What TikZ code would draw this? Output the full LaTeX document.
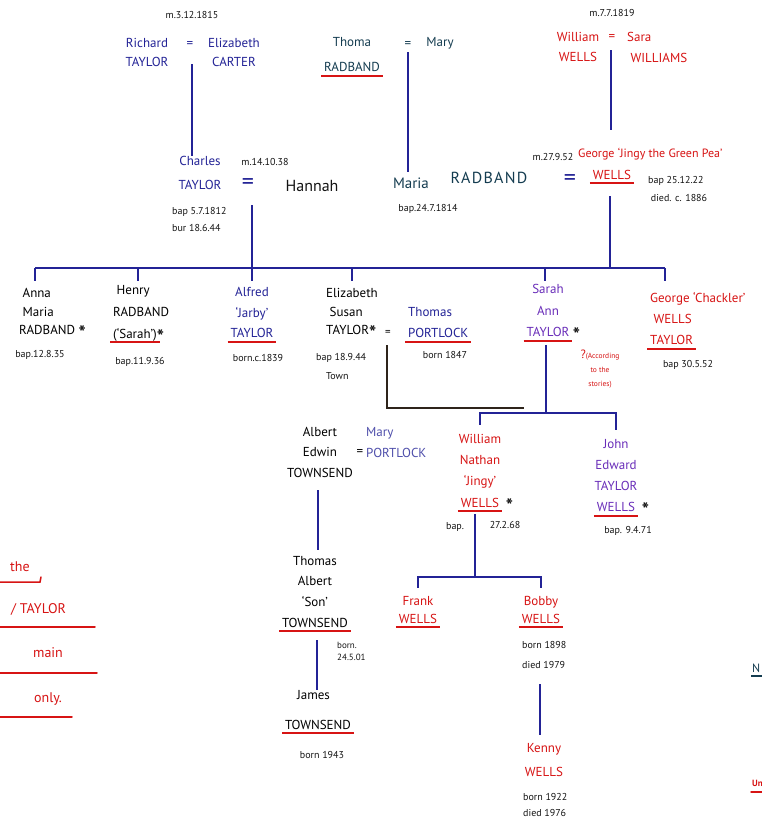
\documentclass[tikz,border=0pt]{standalone}
\usepackage{fontspec}
\setmainfont{PT Sans}
\usepackage{tikz}
\usetikzlibrary{positioning,calc}
\definecolor{inkblue}{RGB}{35,35,150}
\definecolor{inkred}{RGB}{215,20,20}
\definecolor{inkpurple}{RGB}{105,45,185}
\definecolor{inkteal}{RGB}{20,60,80}
\definecolor{inkblack}{RGB}{20,20,20}
% rote Unterstreichung unter Nachnamen
\newcommand\rul[1]{\setbox0=\hbox{#1}\kern-3pt\rlap{\color{inkred}\rule[-5pt]{\dimexpr\wd0+6pt\relax}{1.8pt}}\kern3pt\box0}
\newcommand\st{\raisebox{-5pt}{\fontsize{19}{19}\selectfont\bfseries\color{inkblack}*}}

\begin{document}
\begin{tikzpicture}[x=1pt,y=-1pt,
  nm/.style={font=\fontsize{13}{19}\selectfont, inner sep=0pt, align=center},
  dt/.style={font=\fontsize{10}{16}\selectfont, inner sep=0pt, align=left, text=inkblack},
  big/.style={font=\fontsize{24}{24}\selectfont, inner sep=0pt},
  ln/.style={draw=inkblue, line width=1.1pt},
  ul/.style={draw=inkred, line width=1.5pt, line cap=round}]
\useasboundingbox[fill=white] (0,0) rectangle (762,822);

%Urgrosseltern
\node[dt] (m1) at (192,15) {m.3.12.1815};
\node[nm,text=inkblue] (richard) at (147,52) {Richard\\TAYLOR};
\node[nm,text=inkblue] (eq1) at (190,45) {=};
\node[nm,text=inkblue] (elizC) at (234,52) {Elizabeth\\CARTER};
\node[nm,text=inkteal,font=\fontsize{13}{25}\selectfont] (thoma) at (352,57) {Thoma\\\rul{RADBAND}};
\node[nm,text=inkteal] (eq2) at (408,45) {=};
\node[nm,text=inkteal] (mary) at (440,43) {Mary};
\node[dt] (m2) at (612,13) {m.7.7.1819};
\node[nm,text=inkred,font=\fontsize{13}{20}\selectfont] (william) at (578,47) {William\\WELLS};
\node[nm,text=inkred] (eq3) at (612,38) {=};
\node[nm,text=inkred,anchor=west,align=left,font=\fontsize{13}{21}\selectfont] (sara) at (627,47) {Sara\\\ WILLIAMS};

%Grosseltern
\node[nm,text=inkblue,font=\fontsize{13}{24}\selectfont] (charles) at (200,173) {Charles\\TAYLOR};
\node[dt] (m3) at (265,162) {m.14.10.38};
\node[big,text=inkblue] (eq4) at (248,184) {=};
\node[text=inkblack,font=\fontsize{16}{16}\selectfont,inner sep=0pt] (hannah) at (312,186) {Hannah};
\node[text=inkteal,font=\fontsize{15}{15}\selectfont,inner sep=0pt] (maria) at (411,183) {Maria};
\node[text=inkteal,font=\fontsize{16}{16}\selectfont\addfontfeature{LetterSpace=8},inner sep=0pt] (radband) at (489,178) {RADBAND};
\node[dt,anchor=west,font=\fontsize{10}{17}\selectfont] (bapC) at (172,219) {bap 5.7.1812\\bur 18.6.44};
\node[dt] (bapH) at (428,209) {bap.24.7.1814};
\node[dt] (m4) at (553,157) {m.27.9.52};
\node[nm,text=inkred,anchor=west,font=\fontsize{12}{14}\selectfont] (george) at (578,154) {George `Jingy the Green Pea'};
\node[big,text=inkblue] (eq5) at (570,180) {=};
\node[nm,text=inkred] (gwells) at (612,177) {\rul{WELLS}};
\node[dt,anchor=west,font=\fontsize{10}{18}\selectfont] (bapG) at (648,189) {bap 25.12.22\\\ died. c. 1886};

\coordinate (c1) at (192,64);
\draw[ln] (c1) -- (c1 |- charles.north);
\coordinate (c2) at (408,52);
\draw[ln] (c2) -- ([yshift=5pt]c2 |- maria.north);
\coordinate (c3) at (611,50);
\draw[ln] (c3) -- ++(0,80);

%Geschwisterlinie
\coordinate (bar) at (35,268);
\coordinate (barE) at (665,268);
\draw[ln] (bar) -- (barE);
\coordinate (c4) at (252,205);
\draw[ln] (c4) -- (c4 |- bar);
\coordinate (c5) at (610,196);
\draw[ln] (c5) -- (c5 |- bar);
\foreach \x in {35,138,252,352,545,665}
  \draw[ln] (\x,268) -- ++(0,13);

%Kinder
\node[nm,anchor=west,align=left,font=\fontsize{13}{18.5}\selectfont] (anna) at (19,314) {\ Anna\\\ Maria\\RADBAND \st};
\node[dt] (bapA) at (40,355) {bap.12.8.35};
\node[nm,anchor=west,align=left,font=\fontsize{13}{22}\selectfont] (henry) at (113,314) {\ Henry\\RADBAND\\\rul{(`Sarah')} \st};
\node[dt] (bapHe) at (140,362) {bap.11.9.36};
\node[nm,text=inkblue,font=\fontsize{13}{20.5}\selectfont] (alfred) at (252,315) {Alfred\\`Jarby'\\\rul{TAYLOR}};
\node[dt] (bornA) at (258,358) {born.c.1839};
\node[nm,anchor=west,align=left,font=\fontsize{13}{18.5}\selectfont] (elizS) at (326,314) {Elizabeth\\\ Susan\\TAYLOR\st};
\node[dt,anchor=west,font=\fontsize{10}{19}\selectfont] (bapE) at (316,366) {bap 18.9.44\\\quad Town};
\node[font=\fontsize{11}{11}\selectfont,inner sep=0pt] (eq6) at (388,333) {=};
\node[nm,text=inkblue,anchor=west,align=left,font=\fontsize{13}{21}\selectfont] (thomasP) at (408,325) {Thomas\\\rul{PORTLOCK}};
\node[dt] (bornP) at (445,355) {born 1847};
\node[nm,text=inkpurple,font=\fontsize{13}{21.5}\selectfont] (sarah) at (548,313) {Sarah\\Ann\\\rul{TAYLOR}\rlap{\ \st}};
\node[nm,text=inkred,font=\fontsize{7.5}{14}\selectfont] (accord) at (600,369) {{\fontsize{12}{12}\selectfont ?}(According\\to the\\stories)};
\node[nm,text=inkred,anchor=west,align=left,font=\fontsize{13}{21}\selectfont] (gchack) at (650,321) {George `Chackler'\\\ WELLS\\\rul{TAYLOR}};
\node[dt] (bapGc) at (688,365) {bap 30.5.52};

\coordinate (c6) at (387,345);
\coordinate (c7) at (524,408);
\draw[line width=1.4pt,draw=inkblack!85!brown] (c6) -- (c6 |- c7) -- (c7);
\coordinate (c8) at (546,413);
\draw[ln] ([yshift=-3pt]c8 |- sarah.south) -- (c8);

%Enkel
\node[nm,font=\fontsize{13}{20.5}\selectfont] (albert) at (320,452) {Albert\\Edwin\\TOWNSEND};
\node[nm] (eq7) at (360,453) {=};
\node[nm,text=inkblue!80,anchor=west,align=left,font=\fontsize{13}{21}\selectfont] (maryP) at (366,443) {Mary\\PORTLOCK};
\node[nm,text=inkred,font=\fontsize{13}{21.3}\selectfont] (willN) at (480,473) {William\\Nathan\\`Jingy'\\\rul{WELLS}\rlap{\ \ \st}};
\node[dt] (bapW1) at (455,527) {bap.};
\node[dt] (bapW2) at (505,525) {27.2.68};
\node[nm,text=inkpurple,font=\fontsize{13}{21}\selectfont] (johnE) at (616,478) {John\\Edward\\TAYLOR\\\rul{WELLS}\rlap{\ \ \st}};
\node[dt] (bapJ) at (628,531) {bap. 9.4.71};

\draw[ln] ([yshift=9pt]willN.north) |- (c8) -| ([yshift=9pt]johnE.north);

%Urenkel
\node[nm,font=\fontsize{13}{20.7}\selectfont] (thomasA) at (315,594) {Thomas\\Albert\\`Son'\\\rul{TOWNSEND}};
\node[dt,anchor=west,font=\fontsize{9}{12}\selectfont] (bornT) at (337,651) {born.\\24.5.01};
\node[nm,font=\fontsize{13}{30}\selectfont] (james) at (318,712) {\kern-9pt James\\\rul{TOWNSEND}};
\node[dt] (bornJ) at (322,755) {born 1943};
\node[nm,text=inkred,font=\fontsize{13}{18}\selectfont] (frank) at (418,612) {Frank\\\rul{WELLS}};
\node[nm,text=inkred,font=\fontsize{13}{18}\selectfont] (bobby) at (541,612) {Bobby\\\rul{WELLS}};
\node[dt,anchor=west,font=\fontsize{10}{19.5}\selectfont] (bornB) at (522,655) {born 1898\\died 1979};
\node[nm,text=inkred,font=\fontsize{13}{24}\selectfont] (kenny) at (544,760) {Kenny\\WELLS};
\node[dt,anchor=west,font=\fontsize{10}{16}\selectfont] (bornK) at (523,805) {born 1922\\died 1976};

\coordinate (c9) at (318,490);
\draw[ln] (c9) -- ([yshift=6pt]c9 |- thomasA.north);
\coordinate (c10) at (475,514);
\coordinate (c11) at (475,577);
\draw[ln] (c10) -- (c11);
\draw[ln] ([yshift=8pt]frank.north) |- (c11) -| ([yshift=8pt]bobby.north);
\coordinate (c12) at (317,640);
\draw[ln] (c12) -- ++(0,50);
\coordinate (c13) at (540,684);
\draw[ln] (c13) -- ([yshift=8pt]c13 |- kenny.north);

%Notiz links und Reste rechts
\node[nm,text=inkred,font=\fontsize{14}{14}\selectfont] (n1) at (20,567) {the};
\node[nm,text=inkred,font=\fontsize{14}{14}\selectfont,anchor=west] (n2) at (11,609) {/ TAYLOR};
\node[nm,text=inkred,font=\fontsize{14}{14}\selectfont] (n3) at (48,653) {main};
\node[nm,text=inkred,font=\fontsize{14}{14}\selectfont] (n4) at (48,699) {only.};
\draw[ul] (0,582) -- (40,582) -- (41,577);
\draw[ul] (0,627) -- (95,627);
\draw[ul] (0,673) -- (97,673);
\draw[ul] (0,717) -- (72,717);
\node[nm,text=inkteal,font=\fontsize{12}{12}\selectfont,anchor=west] (nr) at (752,668) {N};
\draw[draw=inkteal,line width=1.3pt] (751,676) -- (762,676);
\node[nm,text=inkred,font=\bfseries\fontsize{9}{9}\selectfont,anchor=west] (ur) at (752,783) {Un};
\draw[ul] (751,792) -- (762,792);
\end{tikzpicture}
\end{document}
